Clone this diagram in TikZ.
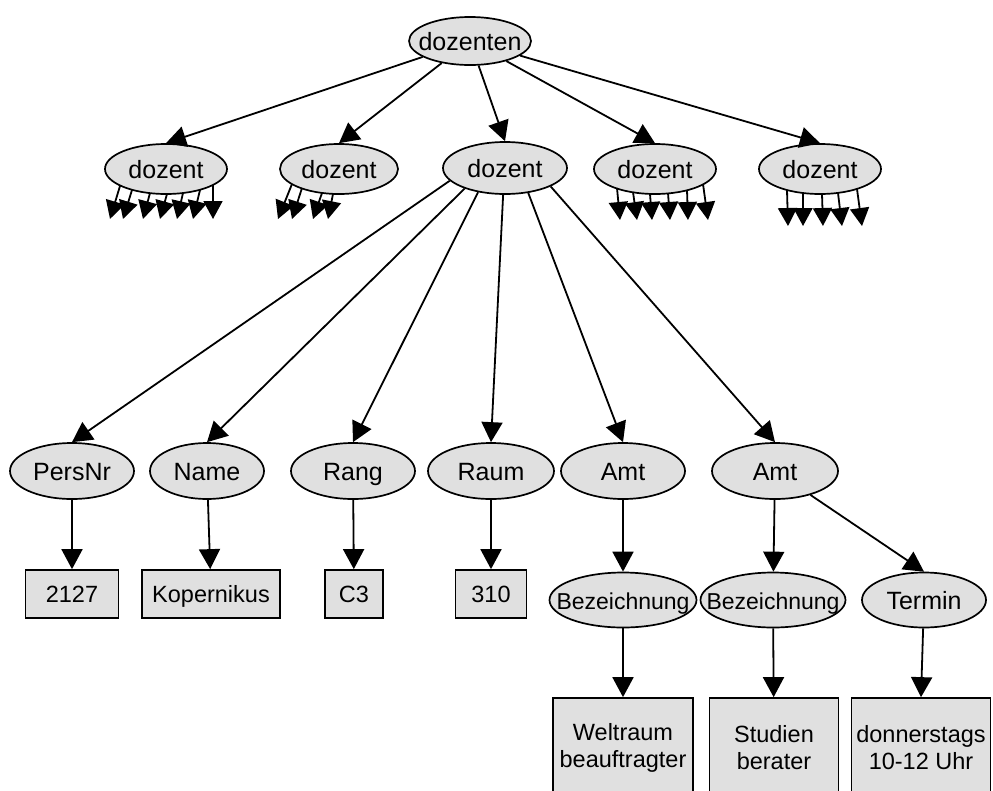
\documentclass[tikz,border=0pt]{standalone}
\usepackage{fontspec}
\setmainfont{Liberation Sans}
\usetikzlibrary{shapes.geometric,arrows.meta,calc}
\definecolor{fillgray}{RGB}{224,224,224}
\newcommand\zw[1]{\makebox[0pt]{#1}}
\begin{document}
\begin{tikzpicture}[x=1pt,y=-1pt,
 ell/.style={ellipse,draw,fill=fillgray,line width=1.7pt,inner sep=0pt,font=\fontsize{25}{29}\selectfont,text height=22pt,text depth=4pt},
 elsmall/.style={ell,font=\fontsize{23}{27}\selectfont},
 box/.style={rectangle,draw,fill=fillgray,line width=1.7pt,inner sep=0pt,align=center,font=\fontsize{23.5}{27}\selectfont},
 onebox/.style={box,text height=21pt,text depth=4pt},
 conn/.style={line width=1.8pt,-{Triangle[length=20pt,width=21pt]}},
 stub/.style={line width=1.8pt,-{Triangle[length=18pt,width=19pt]}},
 ]
\useasboundingbox (0,0) rectangle (993,790);
\clip (0,0) rectangle (993,790);

% root
\node[ell,minimum width=122pt,minimum height=48pt] (root) at (470,41) {\zw{dozenten}};
% dozent row
\node[ell,minimum width=122pt,minimum height=50pt] (d1) at (166,169) {\zw{dozent}};
\node[ell,minimum width=118pt,minimum height=50pt] (d2) at (339,169) {\zw{dozent}};
\node[ell,minimum width=124pt,minimum height=52pt] (d3) at (505,168) {\zw{dozent}};
\node[ell,minimum width=122pt,minimum height=50pt] (d4) at (655,169) {\zw{dozent}};
\node[ell,minimum width=122pt,minimum height=50pt] (d5) at (820,169) {\zw{dozent}};
% attributes
\node[ell,minimum width=124pt,minimum height=56pt] (pers) at (72,471) {\zw{PersNr}};
\node[ell,minimum width=114pt,minimum height=56pt] (name) at (207,471) {\zw{Name}};
\node[ell,minimum width=124pt,minimum height=56pt] (rang) at (353,471) {\zw{Rang}};
\node[ell,minimum width=126pt,minimum height=56pt] (raum) at (491,471) {\zw{Raum}};
\node[ell,minimum width=124pt,minimum height=56pt] (amt1) at (623,471) {\zw{Amt}};
\node[ell,minimum width=126pt,minimum height=56pt] (amt2) at (775,471) {\zw{Amt}};
% value boxes
\node[onebox,minimum width=93pt,minimum height=48pt] (v2127) at (72,594) {2127};
\node[onebox,minimum width=138pt,minimum height=48pt] (vkop) at (211,594) {Kopernikus};
\node[onebox,minimum width=58pt,minimum height=48pt] (vc3) at (354,594) {C3};
\node[onebox,minimum width=71pt,minimum height=48pt] (v310) at (491,594) {310};
% sub-elements
\node[elsmall,minimum width=147pt,minimum height=55pt] (bez1) at (623,600) {\zw{Bezeichnung}};
\node[elsmall,minimum width=145pt,minimum height=55pt] (bez2) at (773,600) {\zw{Bezeichnung}};
\node[ell,minimum width=124pt,minimum height=55pt] (term) at (924,600) {\zw{Termin}};
% bottom boxes
\node[box,minimum width=140pt,minimum height=100pt] (welt) at (623,748) {Weltraum\\beauftragter};
\node[box,minimum width=129pt,minimum height=100pt] (stud) at (774,748) {Studien\\berater};
\node[box,minimum width=139pt,minimum height=100pt] (donn) at (921,748) {donnerstags\\10-12 Uhr};

% root to dozent
\foreach \d in {d1,d2,d3,d4,d5} \draw[conn] (root) -- (\d.north);
% d3 to attributes
\draw[conn] (d3.193) -- (pers.north);
\draw[conn] (d3.207) -- (name.north);
\draw[conn] (d3.222) -- (rang.north);
\draw[conn] (d3.266) -- (raum.north);
\draw[conn] (d3.313) -- (amt1.north);
\draw[conn] (d3.338) -- (amt2.north);
% attributes to values
\draw[conn] (pers) -- (v2127);
\draw[conn] (name) -- (vkop);
\draw[conn] (rang) -- (vc3);
\draw[conn] (raum) -- (v310);
\draw[conn] (amt1) -- (bez1);
\draw[conn] (amt2) -- (bez2);
\draw[conn] (amt2) -- (term.north);
\draw[conn] (bez1) -- (welt);
\draw[conn] (bez2) -- (stud);
\draw[conn] (term) -- (donn.north);

% stub arrows
\foreach \sx/\sy/\tx/\ty in {-46/17/-56/50,-34/21/-43/50,-16/24/-23/50,1/25/-6/50,17/24/11/50,34/21/27/50,47/16/47/50}
  \draw[stub] ($(d1)+(\sx,\sy)$) -- ($(d1)+(\tx,\ty)$);
\foreach \sx/\sy/\tx/\ty in {-47/15/-61/50,-37/19/-47/50,-17/24/-26/50,-6/25/-11/50}
  \draw[stub] ($(d2)+(\sx,\sy)$) -- ($(d2)+(\tx,\ty)$);
\foreach \sx/\sy/\tx/\ty in {-38/19/-35/51,-22/23/-18/51,-5/25/-3/51,13/24/15/51,32/21/33/51,48/15/53/51}
  \draw[stub] ($(d4)+(\sx,\sy)$) -- ($(d4)+(\tx,\ty)$);
\foreach \sx/\sy/\tx/\ty in {-33/21/-32/57,-17/24/-17/57,2/25/3/57,18/24/22/57,37/20/42/57}
  \draw[stub] ($(d5)+(\sx,\sy)$) -- ($(d5)+(\tx,\ty)$);
\end{tikzpicture}
\end{document}
